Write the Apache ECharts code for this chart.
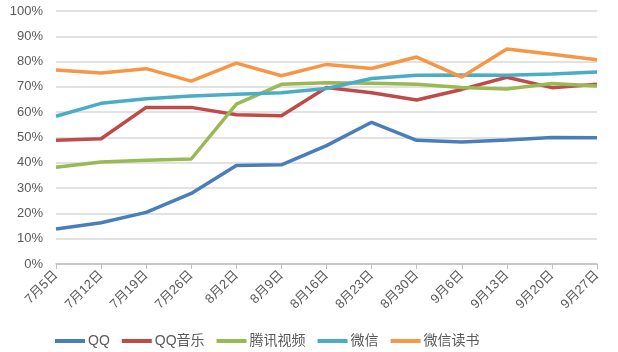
<!DOCTYPE html>
<html>
<head>
<meta charset="utf-8">
<script src="https://cdn.jsdelivr.net/npm/echarts@6/dist/echarts.min.js"></script>
<style>
  html, body { margin: 0; padding: 0; background: #fff; }
  #main { width: 618px; height: 352px; }
</style>
</head>
<body>
<div id="main"></div>
<script>
// 周日期
var dates = ['7月5日', '7月12日', '7月19日', '7月26日', '8月2日', '8月9日', '8月16日',
             '8月23日', '8月30日', '9月6日', '9月13日', '9月20日', '9月27日'];

// 各产品占比 (%)
var qq       = [13.8, 16.3, 20.4, 27.9, 38.9, 39.2, 46.8, 56.0, 48.9, 48.2, 49.0, 50.0, 49.9];
var qqMusic  = [48.9, 49.5, 61.9, 61.9, 59.0, 58.6, 69.8, 67.7, 64.8, 69.0, 73.8, 69.7, 71.0];
var txVideo  = [38.2, 40.3, 41.0, 41.5, 63.2, 71.0, 71.6, 71.4, 71.0, 69.8, 69.2, 71.3, 70.4];
var weixin   = [58.4, 63.5, 65.3, 66.4, 67.1, 67.7, 69.4, 73.3, 74.6, 74.7, 74.6, 75.1, 75.9];
var wxRead   = [76.7, 75.5, 77.2, 72.3, 79.4, 74.4, 78.9, 77.3, 81.8, 73.9, 85.0, 82.9, 80.7];

var names  = ['QQ', 'QQ音乐', '腾讯视频', '微信', '微信读书'];
var colors = ['#4a7ebb', '#be4b48', '#98b954', '#4bacc6', '#f79646'];
var values = [qq, qqMusic, txVideo, weixin, wxRead];

var font = 'Liberation Sans, DejaVu Sans, Noto Sans CJK SC, sans-serif';

var myChart = echarts.init(document.getElementById('main'));

var option = {
    animation: false,
    color: colors,
    textStyle: { fontFamily: font },
    grid: { left: 56, right: 21, top: 11, bottom: 88, containLabel: false },
    legend: {
        top: 329,
        left: 50,
        itemWidth: 30,
        itemHeight: 4,
        itemGap: 12,
        icon: 'rect',
        textStyle: { color: '#595959', fontSize: 14, fontFamily: font, padding: [0, 0, 0, -2] },
        data: names
    },
    xAxis: {
        type: 'category',
        boundaryGap: false,
        data: dates,
        axisLine: { lineStyle: { color: '#bfbfbf', width: 1.5 } },
        axisTick: { show: true, length: 5, lineStyle: { color: '#bfbfbf' } },
        axisLabel: { rotate: 45, color: '#595959', fontSize: 13, margin: 9 }
    },
    yAxis: {
        type: 'value',
        min: 0,
        max: 100,
        interval: 10,
        axisLine: { show: false },
        axisTick: { show: false },
        axisLabel: { formatter: '{value}%', color: '#595959', fontSize: 13, margin: 13 },
        splitLine: { lineStyle: { color: '#d9d9d9', width: 1.5 } }
    },
    series: names.map(function (n, i) {
        return {
            name: n,
            type: 'line',
            data: values[i],
            showSymbol: false,
            symbol: 'none',
            lineStyle: { width: 3.5, color: colors[i] }
        };
    })
};

myChart.setOption(option);
</script>
</body>
</html>
